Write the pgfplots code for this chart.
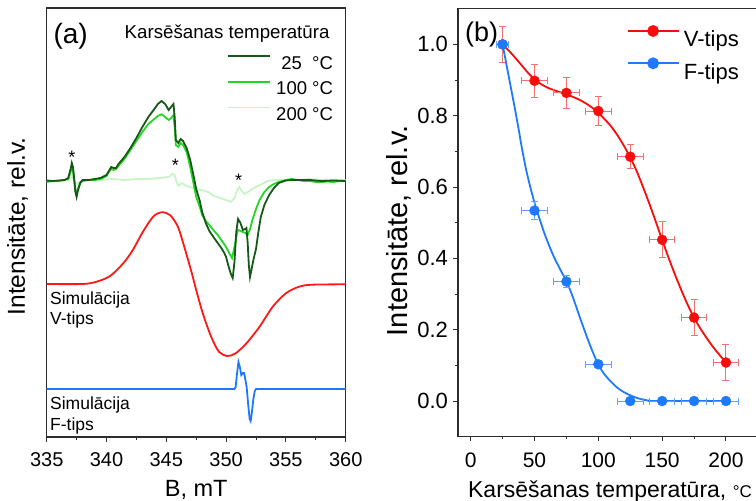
\documentclass[border=0pt]{standalone}
\usepackage{fontspec}
\setmainfont{Liberation Sans}
\usepackage{pgfplots}
\pgfplotsset{compat=1.18}
\usepackage{pgfplotstable}

\definecolor{gA}{RGB}{22,88,22}
\definecolor{gB}{RGB}{36,214,36}
\definecolor{gC}{RGB}{200,244,200}
\definecolor{simred}{RGB}{255,24,24}
\definecolor{simblue}{RGB}{30,120,255}
\definecolor{vred}{RGB}{248,12,12}
\definecolor{vredlt}{RGB}{244,112,112}
\definecolor{fblue}{RGB}{30,122,252}
\definecolor{fbluelt}{RGB}{96,162,255}
\definecolor{frame}{RGB}{45,45,45}

\newcommand\fs[1]{\fontsize{#1}{#1}\selectfont}

% EPR spectra after heating (field in mT, signal in plot units)
\pgfplotstableread{
B v
335.0 256.5
335.5 256
336.0 256.5
336.5 257
336.8 259
337.0 268
337.1 274
337.2 270
337.3 258
337.4 245
337.5 240
337.6 246
337.8 254
338.0 257
338.5 257
339.0 258
339.5 259
340.0 262
340.2 266
340.4 270
340.6 269
340.8 269
341.0 273
341.5 280
342.0 289
342.5 299
343.0 310
343.5 320
344.0 328
344.3 333
344.6 336
344.9 333
345.2 327
345.4 330
345.6 333
345.7 320
345.8 297
346.0 294
346.2 298
346.4 296
346.7 289
347.0 277
347.3 260
347.5 248
347.8 236
348.0 225
348.3 214
348.6 206
349.0 199
349.3 194
349.6 189
349.85 184
350.0 180
350.2 171
350.4 163
350.55 159
350.7 175
350.85 205
351.0 218
351.2 214
351.4 207
351.6 208
351.7 209
351.8 195
351.9 172
352.0 160
352.1 166
352.3 178
352.5 188
352.7 205
352.9 220
353.2 232
353.6 242
354.0 249
354.4 254
355.0 256.5
355.5 257
356.0 257
357.0 257
358.0 256
359.0 256.5
360.0 256
}\specA

\pgfplotstableread{
B v
335.0 255
335.5 256
336.0 256
336.5 257
336.8 258
337.0 265
337.1 270
337.2 266
337.3 256
337.4 247
337.5 243
337.6 248
337.8 254
338.0 256
338.5 257
339.0 257
339.5 258
340.0 261
340.2 265
340.4 268
340.6 267
340.8 268
341.0 271
341.5 278
342.0 287
342.5 296
343.0 305
343.5 313
344.0 318
344.3 321
344.6 322.7
344.9 320
345.2 317
345.4 319
345.6 322
345.7 310
345.8 292
346.0 290
346.2 294
346.4 292
346.7 285
347.0 270
347.3 252
347.5 240
347.8 230
348.0 222
348.3 216
348.6 212
349.0 206
349.3 202
349.6 197
350.0 190
350.3 183
350.5 179
350.7 190
350.9 203
351.0 207
351.2 206
351.4 205
351.6 204
351.8 202
352.0 208
352.2 217
352.5 228
352.8 237
353.2 245
353.6 250
354.0 253
354.4 255
355.0 257
355.5 258
356.0 257
356.5 256
357.0 256
357.5 255
358.0 255
358.5 255.5
359.0 255
359.5 256
360.0 256
}\specB

\pgfplotstableread{
B v
335.0 255.5
336.0 256
336.8 257
337.1 260
337.3 257
337.5 253
337.8 256
338.5 257
339.5 257
340.5 258
341.5 257
342.5 258
343.5 258
344.5 259
345.2 260
345.5 263
345.7 262
345.85 255
346.0 251
346.3 254
346.7 251
347.0 250
347.5 248
348.0 247
348.5 245
349.0 241
349.5 239
350.0 237
350.4 235
350.7 239
350.9 246
351.1 250
351.3 246
351.5 243
351.8 245
352.2 248
352.5 250
353.0 253
353.5 256
354.0 257
355.0 257
356.0 257
357.0 258
358.0 257
359.0 257.5
360.0 257
}\specC

% simulated V-type and F-type components
\pgfplotstableread{
B v
335.0 153
338.0 153
339.17 155.3
340.3 161
341.4 173.7
342.2 187
343.05 205.3
343.9 220.3
344.6 224.7
345.3 222
345.97 210.3
346.5 190.3
347.1 165.3
347.5 147
348.05 123.7
348.75 100.3
349.4 85.3
350.1 81
350.8 83.7
351.7 93.7
352.8 110.3
353.9 130.3
355.0 143.7
356.1 150.3
357.2 152.3
360.0 152.7
}\simV

\pgfplotstableread{
B v
335.0 48
350.7 48
350.8 50
350.9 62
351.03 75
351.15 70
351.27 62
351.4 64
351.5 64
351.6 58
351.72 50
351.85 32
351.97 18
352.05 16
352.15 24
352.28 38
352.4 46
352.5 48
360.0 48
}\simF

% relative intensity vs heating temperature
\pgfplotstableread{
T I eT eI
25  1.000 5  0.050
50  0.898 10 0.046
75  0.864 10 0.043
100 0.813 10 0.040
125 0.685 10 0.034
150 0.452 10 0.050
175 0.234 10 0.050
200 0.108 10 0.050
}\ptsV

\pgfplotstableread{
T I eT eI
25  1.000 5  0.000
50  0.534 10 0.025
75  0.335 10 0.017
100 0.103 10 0.010
125 0.000 10 0.000
150 0.000 10 0.000
175 0.000 10 0.000
200 0.000 10 0.000
}\ptsF

\pgfplotstableread{
T I
25 1.000
30 0.982
35 0.962
40 0.941
45 0.920
50 0.902
55 0.889
60 0.879
65 0.872
70 0.866
75 0.860
80 0.853
85 0.845
90 0.835
95 0.823
100 0.808
105 0.790
110 0.770
115 0.745
120 0.716
125 0.683
130 0.645
135 0.600
140 0.553
145 0.503
150 0.452
155 0.402
160 0.355
165 0.311
170 0.270
175 0.234
180 0.203
185 0.176
190 0.151
195 0.129
200 0.108
}\fitV

\pgfplotstableread{
T I
25 1.000
28 0.944
31 0.888
34 0.832
37 0.774
40 0.712
43 0.656
46 0.610
50 0.556
54 0.510
58 0.468
62 0.431
66 0.398
70 0.370
75 0.336
80 0.292
85 0.240
90 0.190
95 0.143
100 0.102
105 0.074
110 0.054
115 0.037
120 0.025
125 0.016
130 0.009
135 0.004
140 0.001
145 0.000
200 0.000
}\fitF

\pgfplotsset{
  panel/.style={
    scale only axis,
    tick align=outside,
    xtick pos=lower, ytick pos=left,
    every tick/.style={frame, line width=1pt},
    axis line style={frame, line width=1.3pt},
    /pgf/number format/assume math mode=true,
  },
  errstyle/.style={
    error bars/.cd, x dir=both, x explicit, y dir=both, y explicit,
    error bar style={#1, line width=1pt},
    error mark options={rotate=90, #1, line width=1pt, mark size=3.5pt},
  },
}

\begin{document}
\begin{tikzpicture}
\path[use as bounding box] (0,0) rectangle (756pt,501pt);

% ---------- (a) spectra ----------
\begin{axis}[panel,
  at={(46.7pt,64pt)}, anchor=south west,
  width=299pt, height=429pt,
  xmin=335, xmax=360, ymin=0, ymax=429,
  xtick={335,340,...,360}, minor x tick num=1,
  ytick=\empty,
  major tick length=5pt, minor tick length=3pt,
  xticklabel style={font=\fs{20}, yshift=-7pt},
  xlabel={B, mT},
  xlabel style={font=\fs{23.5}, at={(axis description cs:0.5,0)}, anchor=base, yshift=-59.7pt},
  ylabel={Intensitāte, rel.v.},
  ylabel style={font=\fs{24.5}, at={(axis description cs:-0.0726,0.491)}, anchor=base},
  legend style={at={(axis description cs:0.9575,0.8897)}, anchor=north east,
    draw=none, fill=none, inner sep=0pt, outer sep=0pt, row sep=11.7pt, column sep=5pt,
    font=\fs{18.5}, nodes={inner sep=0pt, text height=13pt, text depth=0pt}},
  legend cell align=right,
  legend image code/.code={\draw[#1] (0pt,6.5pt) -- (42pt,6.5pt);},
]
\addplot[gC, line width=1.8pt, forget plot] table[x=B, y=v] {\specC};
\addplot[gB, line width=1.8pt, forget plot] table[x=B, y=v] {\specB};
\addplot[gA, line width=1.8pt, forget plot] table[x=B, y=v] {\specA};
\addplot[simred, line width=1.8pt, smooth, tension=0.5, forget plot] table[x=B, y=v] {\simV};
\addplot[simblue, line width=1.8pt, forget plot] table[x=B, y=v] {\simF};
\addlegendimage{gA, line width=1.8pt}\addlegendentry{25~~°C}
\addlegendimage{gB, line width=1.8pt}\addlegendentry{100 °C}
\addlegendimage{gC, line width=1.8pt}\addlegendentry{200 °C}

\node[anchor=base west, font=\fs{28}] at (axis description cs:0.011,0.9177) {(a)};
\node[anchor=base east, font=\fs{18.7}] at (axis description cs:0.9575,0.9294) {Karsēšanas temperatūra};
\node[anchor=base, font=\fs{18}, inner sep=0pt] at (axis cs:337.1,273.4) {*};
\node[anchor=base, font=\fs{18}, inner sep=0pt] at (axis cs:345.75,265) {*};
\node[anchor=base, font=\fs{18}, inner sep=0pt] at (axis cs:351.05,250) {*};
\node[anchor=base west, font=\fs{17.5}, inner sep=0pt] at (axis description cs:0.011,0.3093) {Simulācija};
\node[anchor=base west, font=\fs{17.5}, inner sep=0pt] at (axis description cs:0.011,0.2634) {V-tips};
\node[anchor=base west, font=\fs{17.5}, inner sep=0pt] at (axis description cs:0.011,0.0646) {Simulācija};
\node[anchor=base west, font=\fs{17.5}, inner sep=0pt] at (axis description cs:0.011,0.0163) {F-tips};
\end{axis}

% ---------- (b) intensity vs temperature ----------
\begin{axis}[panel,
  at={(457.9pt,64.3pt)}, anchor=south west,
  width=300pt, height=428pt,
  xmin=-10, xmax=225, ymin=-0.1, ymax=1.1,
  xtick={0,50,...,200}, minor x tick num=1,
  ytick={0,0.2,0.4,0.6,0.8,1.0}, minor y tick num=1,
  major tick length=4.5pt, minor tick length=2.5pt,
  xticklabel style={font=\fs{21}, yshift=-8.5pt},
  yticklabel style={font=\fs{22}, xshift=-2pt, /pgf/number format/.cd, fixed, fixed zerofill, precision=1},
  xlabel={Karsēšanas temperatūra, {\fs{17}°C}},
  xlabel style={font=\fs{23}, at={(axis description cs:0.507,0)}, anchor=base, yshift=-60.6pt},
  ylabel={Intensitāte, rel.v.},
  ylabel style={font=\fs{29}, at={(axis description cs:-0.169,0.481)}, anchor=base},
  legend style={at={(axis description cs:0.5627,0.9596)}, anchor=north west,
    draw=none, fill=none, inner sep=0pt, outer sep=0pt, row sep=11.3pt, column sep=4.3pt,
    font=\fs{22}, nodes={inner sep=0pt, text height=16pt, text depth=0pt}},
  legend cell align=left,
  legend image code/.code={\draw[#1, mark repeat=2, mark phase=2] plot coordinates {(0pt,8pt) (25.5pt,8pt) (51pt,8pt)};},
]
\addplot[vred, line width=1.8pt, smooth, forget plot] table[x=T, y=I] {\fitV};
\addplot[only marks, mark=*, mark size=5pt, vred, mark options={fill=vred, draw=vred}, forget plot,
  errstyle=vredlt]
  table[x=T, y=I, x error=eT, y error=eI] {\ptsV};
\addplot[fblue, line width=1.8pt, smooth, forget plot] table[x=T, y=I] {\fitF};
\addplot[only marks, mark=*, mark size=5pt, fblue, mark options={fill=fblue, draw=fblue}, forget plot,
  errstyle=fbluelt]
  table[x=T, y=I, x error=eT, y error=eI] {\ptsF};
\addlegendimage{vred, line width=1.8pt, mark=*, mark size=5pt, mark options={fill=vred}}
\addlegendentry{V-tips}
\addlegendimage{fblue, line width=1.8pt, mark=*, mark size=5pt, mark options={fill=fblue}}
\addlegendentry{F-tips}

\node[anchor=base west, font=\fs{27}] at (axis description cs:0.0127,0.923) {(b)};
\end{axis}
\end{tikzpicture}
\end{document}
